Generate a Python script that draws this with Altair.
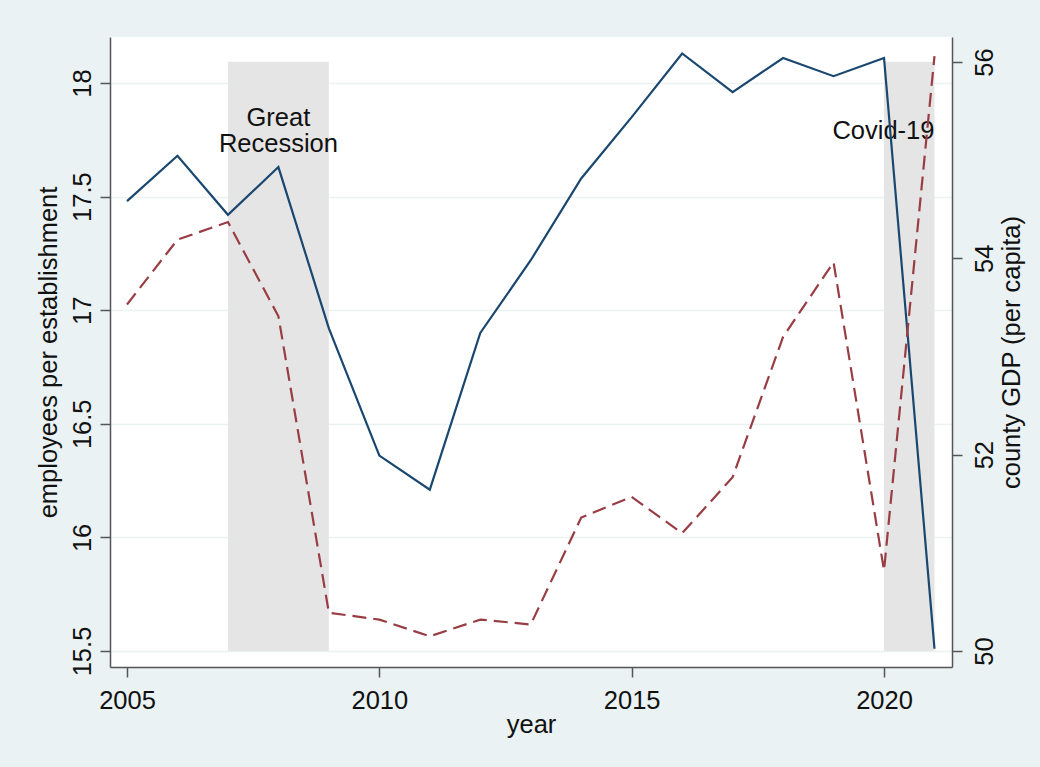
import altair as alt
import pandas as pd

# ---- data ----
years = list(range(2005, 2022))
employees = [17.48, 17.68, 17.42, 17.63, 16.92, 16.36, 16.21, 16.90, 17.22,
             17.58, 17.85, 18.13, 17.96, 18.11, 18.03, 18.11, 15.51]
gdp = [53.53, 54.19, 54.37, 53.41, 50.39, 50.32, 50.15, 50.32, 50.27,
       51.36, 51.57, 51.20, 51.77, 53.20, 53.96, 50.82, 56.06]

shade_start = [2007, 2020]
shade_end = [2009, 2021]
shade_low = [15.5, 15.5]
shade_high = [18.094, 18.094]

gr_text = ["Great", "Recession"]
gr_x = [2008, 2008]
gr_y = [17.812, 17.698]

cv_text = ["Covid-19"]
cv_x = [2021]
cv_y = [17.752]

x_ticks = [2005, 2010, 2015, 2020]
left_ticks = [15.5, 16, 16.5, 17, 17.5, 18]
right_ticks = [50, 52, 54, 56]

# ---- styling ----
FONT = "Liberation Sans"
FS = 25.5
BG = "#EAF2F3"
AXC = "#555555"
TXT = "#111111"
W, H = 842, 630

df = pd.DataFrame({"year": years, "emp": employees, "gdp": gdp})
shade = pd.DataFrame({"x0": shade_start, "x1": shade_end, "y0": shade_low, "y1": shade_high})
gr = pd.DataFrame({"t": gr_text, "x": gr_x, "y": gr_y})
cv = pd.DataFrame({"t": cv_text, "x": cv_x, "y": cv_y})

xscale = alt.Scale(domain=[2004.663, 2021.347], nice=False, zero=False)
yl_scale = alt.Scale(domain=[15.4296, 18.2025], nice=False, zero=False)
yr_scale = alt.Scale(domain=[49.837, 56.2547], nice=False, zero=False)

x_axis = alt.Axis(
    title="year", values=x_ticks, format="d", grid=False,
    tickSize=10, tickWidth=1.5, tickColor=AXC, domainColor=AXC, domainWidth=1.5,
    labelFont=FONT, labelFontSize=FS, labelColor=TXT, labelPadding=11,
    labelFlush=False, labelOverlap=False, labelBound=False,
    titleFont=FONT, titleFontSize=FS, titleFontWeight="normal", titleColor=TXT,
    titleX=W / 2, titleY=65, titleAlign="center", titleBaseline="alphabetic",
)

yl_axis = alt.Axis(
    title="employees per establishment", values=left_ticks, format="~g", orient="left",
    grid=True, gridColor=BG, gridWidth=1.5,
    tickSize=10, tickWidth=1.5, tickColor=AXC, domainColor=AXC, domainWidth=1.5,
    labelFont=FONT, labelFontSize=FS, labelColor=TXT, labelPadding=10,
    labelAngle=270, labelAlign="center", labelBaseline="alphabetic",
    labelFlush=False, labelOverlap=False, labelBound=False,
    titleFont=FONT, titleFontSize=FS, titleFontWeight="normal", titleColor=TXT,
    titleAngle=270, titleAlign="center", titleBaseline="alphabetic",
    titleX=-54, titleY=H / 2,
)

yr_axis = alt.Axis(
    title="county GDP (per capita)", values=right_ticks, format="d", orient="right",
    grid=False,
    tickSize=10, tickWidth=1.5, tickColor=AXC, domainColor=AXC, domainWidth=1.5,
    labelFont=FONT, labelFontSize=FS, labelColor=TXT, labelPadding=30,
    labelAngle=270, labelAlign="center", labelBaseline="alphabetic",
    labelFlush=False, labelOverlap=False, labelBound=False,
    titleFont=FONT, titleFontSize=FS, titleFontWeight="normal", titleColor=TXT,
    titleAngle=270, titleAlign="center", titleBaseline="alphabetic",
    titleX=67, titleY=H / 2,
)


def X(field):
    return alt.X(field, type="quantitative", scale=xscale, axis=x_axis)


def YL(field):
    return alt.Y(field, type="quantitative", scale=yl_scale, axis=yl_axis)


rects = alt.Chart(shade).mark_rect(color="#E5E5E5").encode(
    x=X("x0"), x2="x1", y=YL("y0"), y2="y1"
)

blue = alt.Chart(df).mark_line(color="#1A476F", strokeWidth=2.2).encode(
    x=X("year"), y=YL("emp")
)

gr_lbl = alt.Chart(gr).mark_text(
    font=FONT, fontSize=FS, color=TXT, align="center", baseline="alphabetic"
).encode(x=X("x"), y=YL("y"), text="t")

cv_lbl = alt.Chart(cv).mark_text(
    font=FONT, fontSize=FS, color=TXT, align="right", baseline="alphabetic"
).encode(x=X("x"), y=YL("y"), text="t")

left = alt.layer(rects, gr_lbl, cv_lbl, blue)

red = alt.Chart(df).mark_line(
    color="#993D44", strokeWidth=2.2, strokeDash=[14, 7]
).encode(
    x=X("year"),
    y=alt.Y("gdp", type="quantitative", scale=yr_scale, axis=yr_axis),
)

chart = (
    alt.layer(left, red)
    .resolve_scale(y="independent")
    .properties(
        width=W, height=H,
        background=BG,
        autosize=alt.AutoSizeParams(type="none"),
        padding={"left": 110, "top": 37, "right": 88, "bottom": 100},
    )
    .configure_view(stroke=None, fill="white")
)

chart.save("out.html", embed_options={"renderer": "svg", "actions": False})
